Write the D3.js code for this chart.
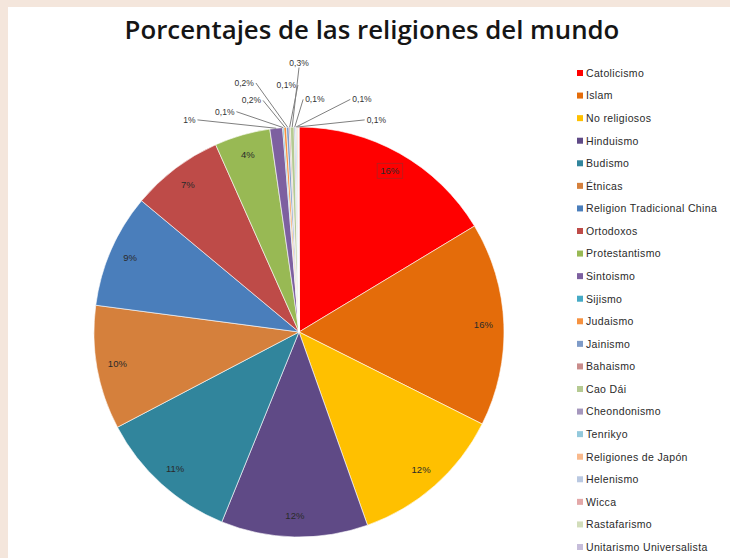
<!DOCTYPE html>
<html>
<head>
<meta charset="utf-8">
<script src="https://cdn.jsdelivr.net/npm/d3@7"></script>
<style>
  body { margin: 0; background: #f4e6dc; }
  #chart { display: block; }
</style>
</head>
<body>
<svg id="chart" width="730" height="558"></svg>
<script>
// religions, in slice order (clockwise from 12 o'clock)
var religions = ['Catolicismo', 'Islam', 'No religiosos', 'Hinduismo', 'Budismo', 'Étnicas',
  'Religion Tradicional China', 'Ortodoxos', 'Protestantismo', 'Sintoismo', 'Sijismo', 'Judaismo',
  'Jainismo', 'Bahaismo', 'Cao Dái', 'Cheondonismo', 'Tenrikyo', 'Religiones de Japón',
  'Helenismo', 'Wicca', 'Rastafarismo', 'Unitarismo Universalista'];
// percentages
var percents = [16.4, 16.1, 12.2, 11.6, 11.2, 9.8, 9.0, 7.3, 4.4, 1.0, 0.1, 0.2,
  0.2, 0.1, 0.3, 0.1, 0.1, 0.1, 0.02, 0.02, 0.02, 0.02];
var colors = ['#ff0000', '#e46c0a', '#ffc000', '#5f4a86', '#31859c', '#d5803c',
  '#4a7ebb', '#be4b48', '#98b954', '#7d60a0', '#46aac5', '#f69240',
  '#7e9bc8', '#c98c8b', '#b5ca92', '#a597bd', '#93c9dc', '#f9b98c',
  '#b9c8e1', '#e3a8a8', '#d2ddba', '#c6bdda'];

// where the outside labels of the thin slices sit (offset from centre, in radii)
var smallLabels = [
  { i: 9,  dx: -0.505, dy: -1.02,  anchor: 'end' },
  { i: 10, dx: -0.315, dy: -1.06,  anchor: 'end' },
  { i: 11, dx: -0.185, dy: -1.115, anchor: 'end' },
  { i: 12, dx: -0.22,  dy: -1.2,   anchor: 'end' },
  { i: 13, dx: -0.015, dy: -1.19,  anchor: 'end' },
  { i: 14, dx: 0,      dy: -1.3,   anchor: 'middle' },
  { i: 15, dx: 0.03,   dy: -1.12,  anchor: 'start' },
  { i: 16, dx: 0.26,   dy: -1.12,  anchor: 'start' },
  { i: 17, dx: 0.33,   dy: -1.02,  anchor: 'start' }
];

var svg = d3.select('#chart');
var W = 730, H = 558;

// white plot panel over the beige frame
svg.append('rect').attr('x', 8).attr('y', 7).attr('width', W - 8).attr('height', H - 7).attr('fill', '#fff');

// title
var title = svg.append('text')
  .attr('x', 372).attr('y', 39)
  .attr('text-anchor', 'middle')
  .style('font-family', '"Open Sans", sans-serif')
  .style('font-weight', 600)
  .style('font-size', '23px')
  .style('fill', '#151515')
  .text('Porcentajes de las religiones del mundo');
var tw = title.node().getComputedTextLength();
title.style('font-size', (23 * 495 / tw) + 'px');

var data = religions.map(function(r, i) { return { name: r, value: percents[i], color: colors[i] }; });

var cx = 299, cy = 332, R = 205;
var pie = d3.pie().sort(null).value(function(d) { return d.value; });
var arcs = pie(data);
var arc = d3.arc().innerRadius(0).outerRadius(R);
var labelArc = d3.arc().innerRadius(R * 0.9).outerRadius(R * 0.9);
var edgeArc = d3.arc().innerRadius(R).outerRadius(R);

function fmt(v) {
  if (v >= 1) return Math.round(v) + '%';
  return d3.format('.1f')(v).replace('.', ',') + '%';
}

var g = svg.append('g').attr('transform', 'translate(' + cx + ',' + cy + ')');

g.selectAll('path.slice')
  .data(arcs)
  .enter().append('path')
  .attr('class', 'slice')
  .attr('d', arc)
  .attr('fill', function(d) { return d.data.color; })
  .attr('stroke', '#fff')
  .attr('stroke-width', 0.6);

// labels inside the big slices
var big = arcs.filter(function(d) { return d.data.value >= 3; });
var bigLabels = g.selectAll('text.big')
  .data(big)
  .enter().append('text')
  .attr('class', 'big')
  .attr('x', function(d) { return labelArc.centroid(d)[0]; })
  .attr('y', function(d) { return labelArc.centroid(d)[1] + 3; })
  .attr('text-anchor', 'middle')
  .style('font-family', '"Liberation Sans", Arial, sans-serif')
  .style('font-size', '9.5px')
  .style('fill', '#2a2a2a')
  .text(function(d) { return fmt(d.data.value); });

// the selected-looking box round the first label
var b0 = bigLabels.nodes()[0].getBBox();
g.append('rect')
  .attr('x', b0.x - 3).attr('y', b0.y - 2)
  .attr('width', b0.width + 6).attr('height', b0.height + 4)
  .attr('fill', 'none').attr('stroke', '#b02020').attr('stroke-width', 0.8);

// outside labels with leader lines for the thin slices
smallLabels.forEach(function(s) {
  var d = arcs[s.i];
  var p = edgeArc.centroid(d);
  var lx = s.dx * R, ly = s.dy * R;
  var ax = lx, ay = ly - 3;
  if (s.anchor === 'end') ax = lx + 2;
  if (s.anchor === 'start') ax = lx - 2;
  if (s.anchor === 'middle') ay = ly + 2;
  g.append('line')
    .attr('x1', ax).attr('y1', ay)
    .attr('x2', p[0]).attr('y2', p[1])
    .attr('stroke', '#808080').attr('stroke-width', 1);
  g.append('text')
    .attr('x', lx).attr('y', ly)
    .attr('text-anchor', s.anchor)
    .style('font-family', '"Liberation Sans", Arial, sans-serif')
    .style('font-size', '8.5px')
    .style('fill', '#333')
    .text(fmt(d.data.value));
});

// legend
var ly = d3.scaleLinear().domain([0, religions.length - 1]).range([73, 547]);
var leg = svg.append('g').selectAll('g')
  .data(data)
  .enter().append('g')
  .attr('transform', function(d, i) { return 'translate(577,' + ly(i) + ')'; });
leg.append('rect')
  .attr('x', 0).attr('y', -3).attr('width', 6).attr('height', 6)
  .attr('fill', function(d) { return d.color; });
leg.append('text')
  .attr('x', 9).attr('y', 3.8)
  .style('font-family', '"Liberation Sans", Arial, sans-serif')
  .style('font-size', '10.5px')
  .style('letter-spacing', '0.35px')
  .style('fill', '#2a2a2a')
  .text(function(d) { return d.name; });
</script>
</body>
</html>
